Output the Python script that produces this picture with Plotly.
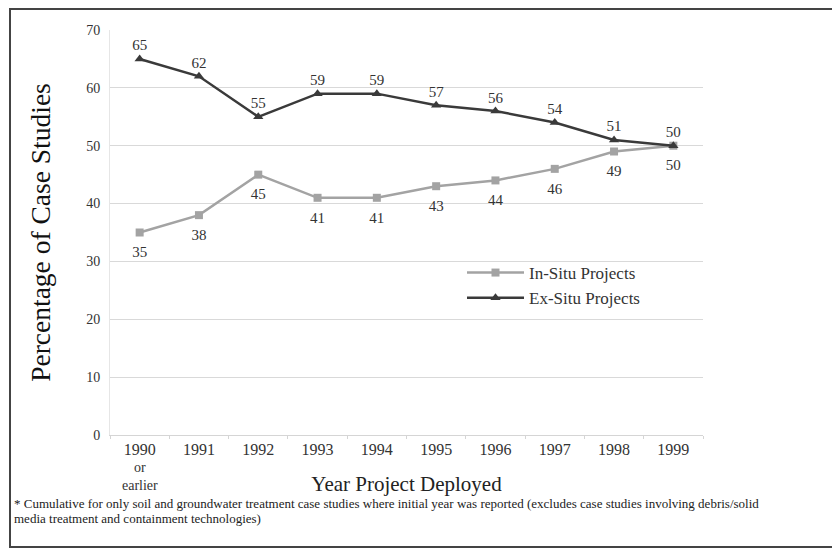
import plotly.graph_objects as go

categories = ["1990", "1991", "1992", "1993", "1994", "1995", "1996", "1997", "1998", "1999"]
first_label_extra = ["or", "earlier"]
in_situ = [35, 38, 45, 41, 41, 43, 44, 46, 49, 50]
ex_situ = [65, 62, 55, 59, 59, 57, 56, 54, 51, 50]
y_ticks = [0, 10, 20, 30, 40, 50, 60, 70]
footnote_lines = [
    "* Cumulative for only soil and groundwater treatment case studies where initial year was reported (excludes case studies involving debris/solid",
    "media treatment and containment technologies)",
]

FONT = "Liberation Serif, Times New Roman, serif"
IN_COLOR = "#a3a3a3"
EX_COLOR = "#3a3a3a"

fig = go.Figure()
fig.add_trace(go.Scatter(
    x=categories, y=in_situ, name="In-Situ Projects",
    mode="lines+markers",
    line=dict(color=IN_COLOR, width=2.5),
    marker=dict(symbol="square", size=8, color=IN_COLOR),
))
fig.add_trace(go.Scatter(
    x=categories, y=ex_situ, name="Ex-Situ Projects",
    mode="lines+markers",
    line=dict(color=EX_COLOR, width=2.5),
    marker=dict(symbol="triangle-up", size=9, color=EX_COLOR),
))
# value labels
fig.add_trace(go.Scatter(
    x=categories, y=in_situ, mode="markers+text", showlegend=False, hoverinfo="skip",
    text=[str(v) for v in in_situ], textposition="bottom center",
    textfont=dict(family=FONT, size=15, color="#333333"),
    marker=dict(size=20, opacity=0),
))
fig.add_trace(go.Scatter(
    x=categories, y=ex_situ, mode="markers+text", showlegend=False, hoverinfo="skip",
    text=[str(v) for v in ex_situ], textposition="top center",
    textfont=dict(family=FONT, size=15, color="#333333"),
    marker=dict(size=6, opacity=0),
))

W, H = 832, 542
L, R, T, B = 102, 137, 22, 115
pw, ph = W - L - R, H - T - B

def px(x):
    return (x - L) / pw

def py(y):
    return (H - B - y) / ph

annotations = []
for i, line in enumerate(footnote_lines):
    annotations.append(dict(
        xref="paper", yref="paper", x=px(4), y=py(495 + 15 * i), xanchor="left", yanchor="middle",
        align="left", showarrow=False, text=line,
        font=dict(family=FONT, size=13, color="#222222"),
    ))
annotations.append(dict(
    xref="x", yref="paper", x=0, y=py(469), borderpad=0,
    xanchor="center", yanchor="middle", showarrow=False, text="<br>".join(first_label_extra),
    font=dict(family=FONT, size=14, color="#333333"),
))

fig.update_layout(
    width=W, height=H,
    margin=dict(l=L, r=R, t=T, b=B),
    paper_bgcolor="white", plot_bgcolor="white",
    font=dict(family=FONT, color="#333333"),
    showlegend=True,
    legend=dict(x=px(454), y=py(247), xanchor="left", yanchor="top",
                font=dict(family=FONT, size=17, color="#333333"),
                bgcolor="rgba(0,0,0,0)", itemwidth=57),
    xaxis=dict(
        type="category",
        tickfont=dict(family=FONT, size=16, color="#333333"),
        showgrid=False, showline=True, linecolor="#d5d5d5", linewidth=1,
        ticks="outside", tickson="boundaries", ticklen=3, tickcolor="#d5d5d5",
        range=[-0.5, 9.5],
        title=dict(text="Year Project Deployed", font=dict(family=FONT, size=21, color="#222222"), standoff=19),
    ),
    yaxis=dict(
        range=[0, 70], tickvals=y_ticks,
        tickfont=dict(family=FONT, size=14, color="#333333"),
        gridcolor="#d9d9d9", gridwidth=1, zeroline=False,
        showline=True, linecolor="#e6e6e6",
        title=dict(text="Percentage of Case Studies", font=dict(family=FONT, size=27.5, color="#111111"), standoff=27),
        ticklabelstandoff=6,
    ),
    shapes=[dict(type="rect", xref="paper", yref="paper",
                 x0=px(2), x1=px(831), y0=py(539), y1=py(1),
                 line=dict(color="#444444", width=2), fillcolor="rgba(0,0,0,0)")],
    annotations=annotations,
)

fig.write_html("out.html")
